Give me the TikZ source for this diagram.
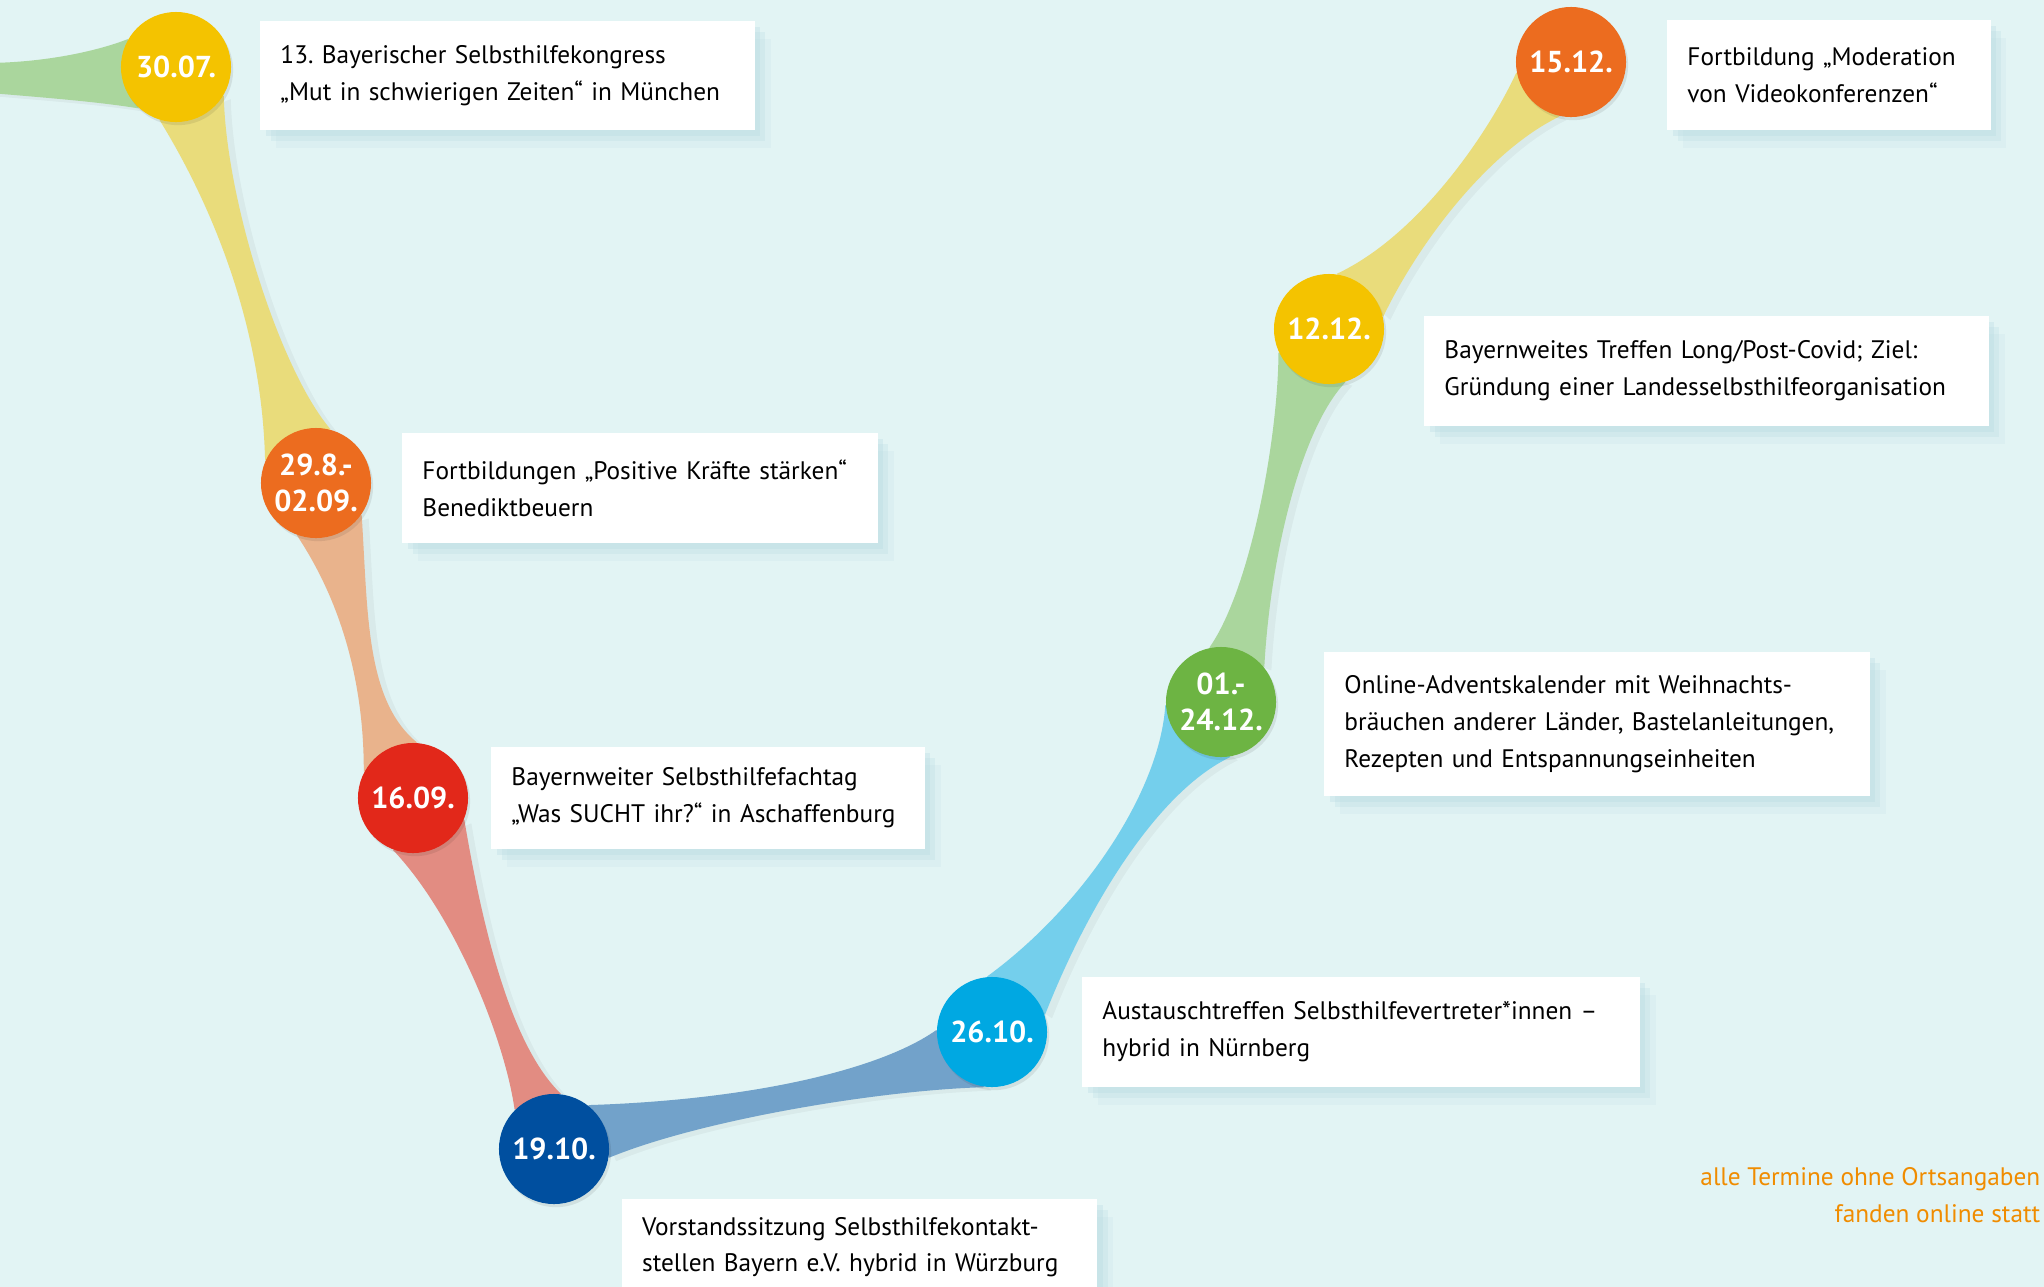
\documentclass[tikz,border=0pt]{standalone}
\usepackage{fontspec}
\setmainfont{PT Sans}
\usepackage{xcolor}
\usepackage{tikz}
\usetikzlibrary{positioning}
\usetikzlibrary{backgrounds}
\frenchspacing

\definecolor{bgcol}{HTML}{E2F4F4}
\definecolor{shadecol}{HTML}{B5D9E1}
\definecolor{dyellow}{HTML}{F4C300}
\definecolor{dorange}{HTML}{EC6C1F}
\definecolor{dred}{HTML}{E2281A}
\definecolor{dblue}{HTML}{004F9F}
\definecolor{dcyan}{HTML}{00A8E2}
\definecolor{dgreen}{HTML}{6DB443}
\definecolor{bgreen}{HTML}{AAD69D}
\definecolor{byellow}{HTML}{E9DC7B}
\definecolor{borange}{HTML}{E9B38C}
\definecolor{bred}{HTML}{E28C82}
\definecolor{bblue}{HTML}{72A2CA}
\definecolor{bcyan}{HTML}{74CFEC}
\definecolor{notecol}{HTML}{F08C00}

\tikzset{
	soft/.style={preaction={fill=shadecol, opacity=0.15, transform canvas={xshift=4.5pt, yshift=-5pt}},
		preaction={fill=shadecol, opacity=0.25, transform canvas={xshift=3pt, yshift=-3.2pt}},
		preaction={fill=shadecol, opacity=0.3, transform canvas={xshift=1.6pt, yshift=-1.6pt}}},
	date/.style={circle, minimum size=1.1cm, inner sep=0pt, text=white, align=center,
		font=\fontsize{8.6}{10.4}\selectfont\bfseries,
		preaction={fill=black, opacity=0.08, transform canvas={xshift=0.6pt, yshift=-0.9pt}}},
	info/.style={soft, fill=white, inner xsep=0.2cm, inner ysep=0pt, align=left,
		font=\fontsize{7.2}{10.5}\selectfont},
	band/.style={preaction={fill=black, opacity=0.04, transform canvas={xshift=2pt, yshift=-1pt}}},
}

\begin{document}
\begin{tikzpicture}[x=0.01cm, y=-0.01cm]
	\clip (0,0) rectangle (2044,1287);

	% Dates
	\node[date, fill=dyellow] (d3007) at (176,67)   {30.07.};
	\node[date, fill=dorange] (d2908) at (316,483)  {29.8.-\\02.09.};
	\node[date, fill=dred]    (d1609) at (413,798)  {16.09.};
	\node[date, fill=dblue]   (d1910) at (554,1149) {19.10.};
	\node[date, fill=dcyan]   (d2610) at (992,1032) {26.10.};
	\node[date, fill=dgreen]  (d0112) at (1221,702) {01.-\\24.12.};
	\node[date, fill=dyellow] (d1212) at (1329,329) {12.12.};
	\node[date, fill=dorange] (d1512) at (1571,62)  {15.12.};

	% Events
	\node[info, text width=4.54cm, minimum height=1.09cm, right=0.28cm of d3007, yshift=-0.085cm] (t3007)
		{13. Bayerischer Selbsthilfekongress\\„Mut in schwierigen Zeiten“ in München};
	\node[info, text width=4.35cm, minimum height=1.10cm, right=0.30cm of d2908, yshift=-0.05cm] (t2908)
		{Fortbildungen „Positive Kräfte stärken“\\Benediktbeuern};
	\node[info, text width=3.93cm, minimum height=1.02cm, right=0.22cm of d1609] (t1609)
		{Bayernweiter Selbsthilfefachtag\\„Was SUCHT ihr?“ in Aschaffenburg};
	\node[info, text width=4.35cm, minimum height=0.96cm, below right=0.10cm and 0.28cm of d1910] (t1910)
		{Vorstandssitzung Selbsthilfekontakt-\\stellen Bayern e.V. hybrid in Würzburg};
	\node[info, text width=5.17cm, minimum height=1.10cm, right=0.34cm of d2610] (t2610)
		{Austauschtreffen Selbsthilfevertreter*innen –\\hybrid in Nürnberg};
	\node[info, text width=5.05cm, minimum height=1.44cm, right=0.47cm of d0112, yshift=-0.22cm] (t0112)
		{Online-Adventskalender mit Weihnachts-\\bräuchen anderer Länder, Bastelanleitungen,\\Rezepten und Entspannungseinheiten};
	\node[info, text width=5.24cm, minimum height=1.10cm, right=0.39cm of d1212, yshift=-0.42cm] (t1212)
		{Bayernweites Treffen Long/Post-Covid; Ziel:\\Gründung einer Landesselbsthilfeorganisation};
	\node[info, text width=2.83cm, minimum height=1.10cm, right=0.40cm of d1512, yshift=-0.13cm] (t1512)
		{Fortbildung „Moderation\\von Videokonferenzen“};

	% Note
	\node[anchor=north east, align=right, inner sep=0pt, text=notecol,
		font=\fontsize{7.2}{10.5}\selectfont] (hint) at (2041,1167)
		{alle Termine ohne Ortsangaben\\fanden online statt};

	% Connect the dates
	\begin{scope}[on background layer]
		\fill[bgcol] (0,0) rectangle (2044,1287);
		\coordinate (from1) at (-10,63);
		\coordinate (from2) at (-10,93);
		\fill[band, bgreen] (from1) .. controls (50,62) and (100,50) .. (d3007.150)
			-- (d3007.-132) .. controls (100,102) and (50,98) .. (from2) -- cycle;
		\fill[band, byellow] (d3007.-107) .. controls (215,210) and (262,330) .. (d2908.156)
			-- (d2908.75) .. controls (280,370) and (226,200) .. (d3007.-31) -- cycle;
		\fill[band, borange] (d2908.-110) .. controls (340,600) and (364,680) .. (d1609.152)
			-- (d1609.86) .. controls (365,700) and (368,610) .. (d2908.-35) -- cycle;
		\fill[band, bred] (d1609.-111) .. controls (455,915) and (505,1040) .. (d1910.135)
			-- (d1910.83) .. controls (505,1040) and (478,900) .. (d1609.-23) -- cycle;
		\fill[band, bblue] (d1910.52) .. controls (750,1100) and (880,1070) .. (d2610.178)
			-- (d2610.-98) .. controls (880,1090) and (700,1120) .. (d1910.-9) -- cycle;
		\fill[band, bcyan] (d2610.95) .. controls (1085,905) and (1160,790) .. (d0112.183)
			-- (d0112.-80) .. controls (1160,790) and (1090,900) .. (d2610.18) -- cycle;
		\fill[band, bgreen] (d0112.102) .. controls (1250,590) and (1278,440) .. (d1212.-155)
			-- (d1212.-73) .. controls (1300,430) and (1270,560) .. (d0112.39) -- cycle;
		\fill[band, byellow] (d1212.82) .. controls (1420,235) and (1490,130) .. (d1512.-169)
			-- (d1512.-102) .. controls (1490,150) and (1420,240) .. (d1212.13) -- cycle;
	\end{scope}
\end{tikzpicture}
\end{document}
